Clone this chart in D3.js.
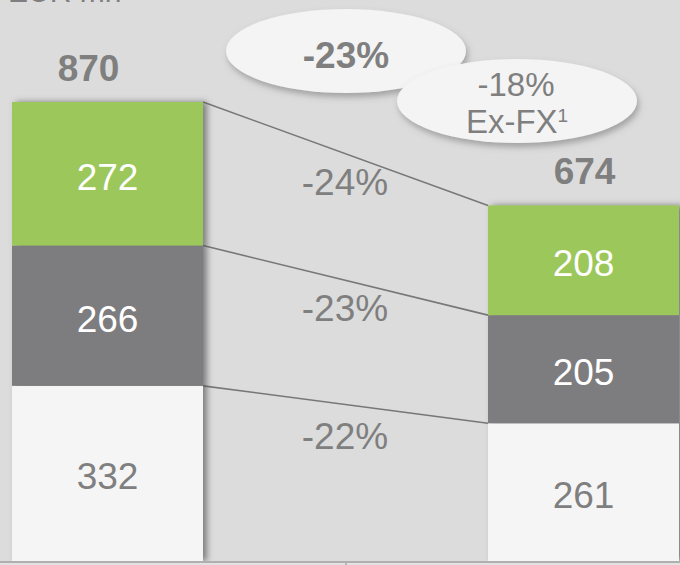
<!DOCTYPE html>
<html>
<head>
<meta charset="utf-8">
<script src="https://cdn.jsdelivr.net/npm/d3@7"></script>
<style>
  html, body { margin: 0; padding: 0; background: #dcdcdc; }
  svg { display: block; font-family: "Liberation Sans", Arial, sans-serif; }
</style>
</head>
<body>
<svg id="chart" width="680" height="565"></svg>
<script>
// data
const periods = ['left', 'right'];
const segments = ['white', 'dark', 'green'];   // bottom to top
const leftValues = [332, 266, 272];
const rightValues = [261, 205, 208];
const totals = [870, 674];
const changeLabels = ['-22%', '-23%', '-24%'];  // per segment, bottom to top
const totalChange = '-23%';
const exFxChange = '-18%';

const colors = { white: '#f5f5f5', dark: '#7d7d7f', green: '#9cc75a' };
const labelColors = { white: '#7f7f7f', dark: '#ffffff', green: '#ffffff' };
const grey = '#7f7f7f';

const svg = d3.select('#chart');
const width = 680, height = 565;

svg.append('rect').attr('width', width).attr('height', height).attr('fill', '#dcdcdc');

const defs = svg.append('defs');
defs.append('filter').attr('id', 'barShadow')
    .attr('x', '-10%').attr('y', '-10%').attr('width', '130%').attr('height', '120%')
  .append('feDropShadow')
    .attr('dx', 4).attr('dy', 0).attr('stdDeviation', 3)
    .attr('flood-color', '#555').attr('flood-opacity', 0.7);
defs.append('filter').attr('id', 'ovalShadow')
    .attr('x', '-20%').attr('y', '-20%').attr('width', '140%').attr('height', '150%')
  .append('feDropShadow')
    .attr('dx', 2).attr('dy', 4).attr('stdDeviation', 3)
    .attr('flood-color', '#666').attr('flood-opacity', 0.5);

// scales
const x = d3.scaleOrdinal().domain(periods).range([12, 488]);
const barW = 191;
const y = d3.scaleLinear().domain([0, 870]).range([561, 102]);

// top-left unit (cut off by the frame, as in the source slide)
svg.append('text').attr('x', 8).attr('y', 2)
    .attr('font-size', 30).attr('fill', grey).text('EUR mn');

function stack(vals) {
  let acc = 0;
  return vals.map((v, i) => {
    const d = { key: segments[i], v0: acc, v1: acc + v, value: v };
    acc += v;
    return d;
  });
}
const stacks = [stack(leftValues), stack(rightValues)];

// connector lines: top of each segment
const conn = svg.append('g');
segments.forEach((s, i) => {
  const a = stacks[0][i], b = stacks[1][i];
  conn.append('line')
      .attr('x1', x('left') + barW).attr('y1', y(a.v1))
      .attr('x2', x('right')).attr('y2', y(b.v1))
      .attr('stroke', '#777').attr('stroke-width', 1.6);
});

// bars
periods.forEach((p, pi) => {
  const g = svg.append('g').attr('filter', 'url(#barShadow)');
  g.selectAll('rect').data(stacks[pi]).join('rect')
      .attr('x', x(p)).attr('width', barW)
      .attr('y', d => y(d.v1)).attr('height', d => y(d.v0) - y(d.v1))
      .attr('fill', d => colors[d.key]);
  svg.append('g').selectAll('text').data(stacks[pi]).join('text')
      .attr('x', x(p) + barW / 2)
      .attr('y', d => (y(d.v0) + y(d.v1)) / 2 + 16)
      .attr('text-anchor', 'middle').attr('font-size', 37)
      .attr('fill', d => labelColors[d.key])
      .text(d => d.value);
  svg.append('text')
      .attr('x', x(p) + barW / 2 - (pi === 0 ? 19 : -1))
      .attr('y', y(totals[pi]) - 21)
      .attr('text-anchor', 'middle').attr('font-size', 37).attr('font-weight', 'bold')
      .attr('fill', grey).text(totals[pi]);
});

// change labels between bars
segments.forEach((s, i) => {
  const midY = (y(stacks[0][i].v1) + y(stacks[1][i].v1)) / 2;
  svg.append('text')
      .attr('x', 345).attr('y', midY + 41 + (i === 0 ? 3 : 0))
      .attr('text-anchor', 'middle').attr('font-size', 37)
      .attr('fill', grey).text(changeLabels[i]);
});

// ovals
const ovals = svg.append('g');
ovals.append('ellipse').attr('cx', 346).attr('cy', 51).attr('rx', 120).attr('ry', 42)
    .attr('fill', '#f4f4f4').attr('filter', 'url(#ovalShadow)');
ovals.append('ellipse').attr('cx', 517).attr('cy', 101).attr('rx', 120).attr('ry', 42)
    .attr('fill', '#f4f4f4').attr('filter', 'url(#ovalShadow)');
ovals.append('text').attr('x', 346).attr('y', 68)
    .attr('text-anchor', 'middle').attr('font-size', 37).attr('font-weight', 'bold')
    .attr('fill', grey).text(totalChange);
ovals.append('text').attr('x', 516).attr('y', 96)
    .attr('text-anchor', 'middle').attr('font-size', 33)
    .attr('fill', grey).text(exFxChange);
const exfx = ovals.append('text').attr('x', 517).attr('y', 133)
    .attr('text-anchor', 'middle').attr('font-size', 33).attr('fill', grey);
exfx.append('tspan').text('Ex-FX');
exfx.append('tspan').attr('font-size', 19).attr('dy', -11).text('1');

// bottom frame
svg.append('rect').attr('x', 0).attr('y', 561).attr('width', width).attr('height', 2).attr('fill', '#b0b0b0');
svg.append('rect').attr('x', 0).attr('y', 563).attr('width', width).attr('height', 2).attr('fill', '#e2e2e2');
svg.append('line').attr('x1', 346).attr('x2', 346).attr('y1', 563).attr('y2', 565)
    .attr('stroke', '#aaa').attr('stroke-width', 1.5);
</script>
</body>
</html>
